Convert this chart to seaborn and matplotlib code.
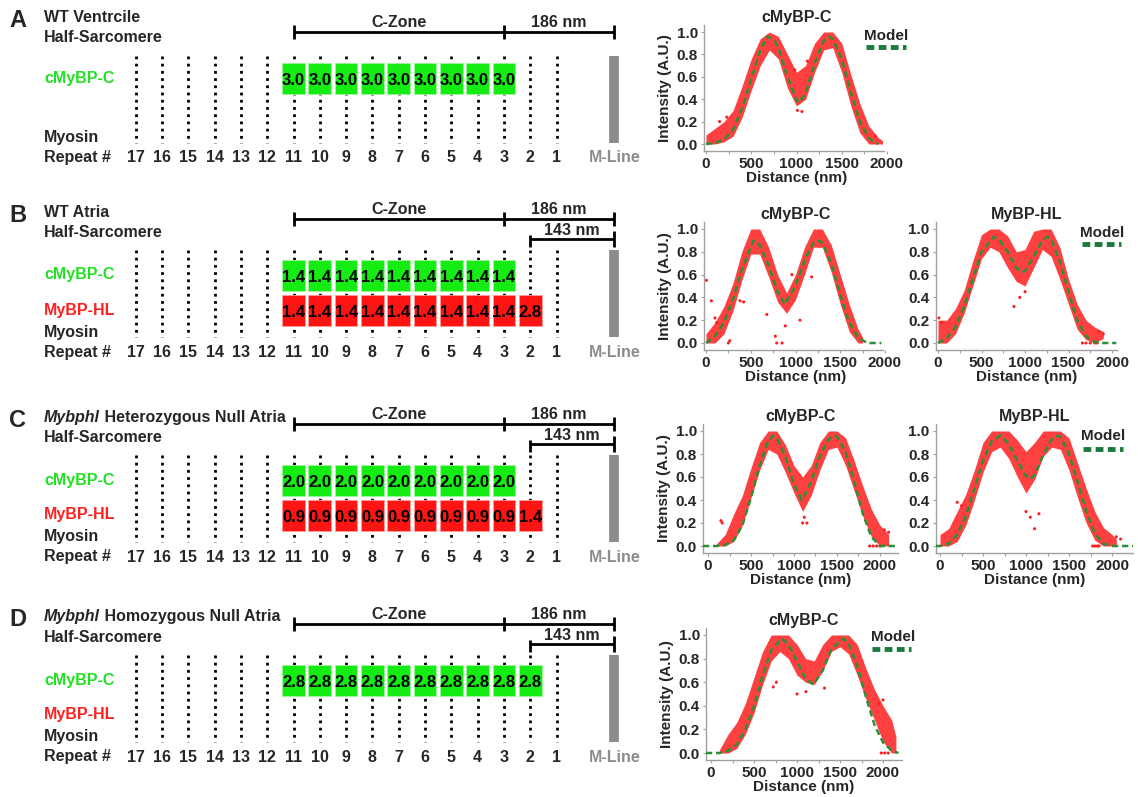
import matplotlib
matplotlib.use("Agg")
import matplotlib.pyplot as plt
from matplotlib.lines import Line2D
import seaborn as sns

sns.set_style("white")
plt.rcParams['font.family'] = ['Liberation Sans', 'DejaVu Sans']
plt.rcParams['font.weight'] = 'bold'
plt.rcParams['axes.labelweight'] = 'bold'
plt.rcParams['axes.titleweight'] = 'bold'

W, H = 1138, 797

# ---------------- schematic data ----------------
repeat_numbers = [17, 16, 15, 14, 13, 12, 11, 10, 9, 8, 7, 6, 5, 4, 3, 2, 1]
czone_repeats = [11, 10, 9, 8, 7, 6, 5, 4, 3]
czone_plus2 = [11, 10, 9, 8, 7, 6, 5, 4, 3, 2]

a_cmybpc = [3.0, 3.0, 3.0, 3.0, 3.0, 3.0, 3.0, 3.0, 3.0]
b_cmybpc = [1.4, 1.4, 1.4, 1.4, 1.4, 1.4, 1.4, 1.4, 1.4]
b_mybphl = [1.4, 1.4, 1.4, 1.4, 1.4, 1.4, 1.4, 1.4, 1.4, 2.8]
c_cmybpc = [2.0, 2.0, 2.0, 2.0, 2.0, 2.0, 2.0, 2.0, 2.0]
c_mybphl = [0.9, 0.9, 0.9, 0.9, 0.9, 0.9, 0.9, 0.9, 0.9, 1.4]
d_cmybpc = [2.8, 2.8, 2.8, 2.8, 2.8, 2.8, 2.8, 2.8, 2.8, 2.8]

# ---------------- intensity profiles ----------------
# A: WT ventricle cMyBP-C
a_env_x = [0, 100, 200, 300, 400, 500, 600, 700, 800, 900, 1000, 1100, 1200, 1300, 1400, 1500, 1600, 1700, 1800, 1900, 1950]
a_env_lo = [0.0, 0.0, 0.02, 0.07, 0.24, 0.48, 0.7, 0.84, 0.76, 0.5, 0.34, 0.4, 0.64, 0.84, 0.86, 0.64, 0.34, 0.1, 0.0, 0.0, 0.0]
a_env_hi = [0.08, 0.14, 0.2, 0.3, 0.52, 0.76, 0.94, 1.0, 0.96, 0.8, 0.64, 0.7, 0.9, 1.0, 1.0, 0.9, 0.62, 0.36, 0.16, 0.06, 0.03]
a_model_x = [0, 100, 200, 300, 400, 500, 600, 680, 750, 800, 900, 1000, 1030, 1100, 1200, 1300, 1360, 1400, 1500, 1600, 1700, 1800, 1900]
a_model_y = [0.0, 0.01, 0.04, 0.13, 0.32, 0.58, 0.84, 0.96, 0.93, 0.86, 0.6, 0.39, 0.37, 0.45, 0.72, 0.92, 0.96, 0.94, 0.76, 0.46, 0.2, 0.05, 0.0]
a_out_x = [150, 230, 1010, 1060, 1870, 980, 1120]
a_out_y = [0.2, 0.24, 0.3, 0.29, 0.07, 0.66, 0.74]

# B: WT atria cMyBP-C
bc_env_x = [0, 100, 200, 300, 400, 500, 600, 700, 800, 900, 1000, 1100, 1200, 1300, 1400, 1500, 1600, 1700, 1750]
bc_env_lo = [0.0, 0.0, 0.08, 0.28, 0.55, 0.78, 0.78, 0.58, 0.36, 0.26, 0.38, 0.6, 0.84, 0.84, 0.62, 0.34, 0.1, 0.0, 0.0]
bc_env_hi = [0.08, 0.18, 0.32, 0.52, 0.8, 1.0, 1.0, 0.84, 0.6, 0.44, 0.6, 0.84, 1.0, 1.0, 0.86, 0.6, 0.34, 0.12, 0.05]
bc_model_x = [0, 100, 200, 300, 400, 530, 600, 700, 800, 880, 1000, 1100, 1200, 1255, 1300, 1400, 1500, 1600, 1700, 1800, 1960]
bc_model_y = [0.0, 0.06, 0.18, 0.38, 0.64, 0.9, 0.86, 0.68, 0.45, 0.34, 0.5, 0.72, 0.88, 0.9, 0.88, 0.7, 0.42, 0.18, 0.05, 0.0, 0.0]
bc_out_x = [5, 60, 120, 100, 250, 265, 420, 380, 680, 775, 790, 850, 886, 1050, 960, 1180]
bc_out_y = [0.55, 0.37, 0.18, 0.22, 0.0, 0.02, 0.36, 0.37, 0.25, 0.06, 0.0, 0.0, 0.15, 0.2, 0.6, 0.58]

# B: WT atria MyBP-HL
bh_env_x = [0, 100, 200, 300, 400, 500, 600, 700, 800, 900, 1000, 1100, 1200, 1300, 1400, 1500, 1600, 1700, 1800, 1900]
bh_env_lo = [0.0, 0.0, 0.08, 0.26, 0.5, 0.74, 0.84, 0.8, 0.66, 0.54, 0.5, 0.66, 0.82, 0.76, 0.56, 0.34, 0.12, 0.03, 0.0, 0.04]
bh_env_hi = [0.2, 0.2, 0.3, 0.46, 0.72, 0.95, 1.0, 1.0, 0.94, 0.8, 0.82, 0.98, 1.0, 1.0, 0.84, 0.56, 0.34, 0.2, 0.14, 0.1]
bh_model_x = [0, 100, 200, 300, 400, 500, 640, 700, 800, 900, 960, 1000, 1100, 1200, 1250, 1300, 1400, 1500, 1600, 1700, 1800, 1860, 2050]
bh_model_y = [0.0, 0.04, 0.14, 0.32, 0.56, 0.8, 0.93, 0.91, 0.8, 0.66, 0.62, 0.63, 0.76, 0.9, 0.93, 0.91, 0.72, 0.45, 0.2, 0.06, 0.01, 0.0, 0.0]
bh_out_x = [10, 40, 873, 940, 1000, 1660, 1700, 1750, 1800, 1830, 1850, 1900]
bh_out_y = [0.22, 0.18, 0.32, 0.4, 0.45, 0.0, 0.0, 0.0, 0.0, 0.0, 0.1, 0.08]

# C: heterozygous null atria cMyBP-C
cc_env_x = [100, 200, 300, 400, 500, 600, 700, 800, 900, 1000, 1100, 1200, 1300, 1400, 1500, 1600, 1700, 1800, 1900, 2000, 2100]
cc_env_lo = [0.0, 0.0, 0.04, 0.18, 0.42, 0.66, 0.84, 0.8, 0.64, 0.46, 0.3, 0.44, 0.66, 0.84, 0.86, 0.7, 0.48, 0.26, 0.08, 0.0, 0.0]
cc_env_hi = [0.02, 0.1, 0.28, 0.44, 0.68, 0.9, 1.0, 1.0, 0.88, 0.7, 0.6, 0.7, 0.9, 1.0, 1.0, 0.94, 0.74, 0.52, 0.32, 0.18, 0.1]
cc_model_x = [-58, 0, 100, 200, 300, 400, 500, 600, 700, 760, 800, 900, 1000, 1090, 1100, 1200, 1300, 1400, 1477, 1500, 1600, 1700, 1800, 1900, 2000, 2100, 2209]
cc_model_y = [0.0, 0.0, 0.0, 0.01, 0.05, 0.18, 0.42, 0.7, 0.91, 0.96, 0.94, 0.78, 0.54, 0.4, 0.41, 0.56, 0.78, 0.93, 0.96, 0.95, 0.82, 0.56, 0.28, 0.08, 0.0, 0.0, 0.0]
cc_out_x = [150, 165, 1150, 1120, 1100, 2100, 2050, 1880, 1920, 1960, 2000]
cc_out_y = [0.22, 0.2, 0.2, 0.25, 0.2, 0.12, 0.14, 0.0, 0.0, 0.0, 0.0]

# C: heterozygous null atria MyBP-HL
ch_env_x = [0, 100, 200, 300, 400, 500, 600, 700, 800, 900, 1000, 1100, 1200, 1300, 1400, 1500, 1600, 1700, 1800, 1900, 2000, 2050]
ch_env_lo = [0.0, 0.0, 0.04, 0.18, 0.4, 0.64, 0.82, 0.86, 0.76, 0.6, 0.46, 0.58, 0.78, 0.86, 0.84, 0.66, 0.42, 0.2, 0.05, 0.0, 0.0, 0.0]
ch_env_hi = [0.1, 0.15, 0.3, 0.45, 0.66, 0.9, 1.0, 1.0, 1.0, 0.92, 0.82, 0.9, 1.0, 1.0, 1.0, 0.94, 0.72, 0.5, 0.3, 0.16, 0.1, 0.06]
ch_model_x = [-47, 0, 100, 200, 300, 400, 500, 600, 700, 800, 900, 1000, 1050, 1100, 1200, 1300, 1376, 1400, 1500, 1600, 1700, 1800, 1900, 2000, 2244]
ch_model_y = [0.0, 0.0, 0.02, 0.1, 0.26, 0.5, 0.74, 0.91, 0.96, 0.89, 0.74, 0.61, 0.58, 0.62, 0.79, 0.93, 0.96, 0.95, 0.8, 0.56, 0.3, 0.11, 0.02, 0.0, 0.0]
ch_out_x = [1100, 1050, 1000, 1150, 200, 250, 1775, 1800, 1830, 1850, 2050, 2100]
ch_out_y = [0.15, 0.25, 0.3, 0.28, 0.38, 0.35, 0.0, 0.0, 0.0, 0.0, 0.08, 0.06]

# D: homozygous null atria cMyBP-C
dc_env_x = [100, 200, 300, 400, 500, 600, 700, 800, 900, 1000, 1100, 1200, 1300, 1400, 1500, 1600, 1700, 1800, 1900, 2000, 2100, 2150]
dc_env_lo = [0.0, 0.0, 0.04, 0.16, 0.34, 0.58, 0.78, 0.86, 0.8, 0.66, 0.6, 0.58, 0.7, 0.86, 0.9, 0.84, 0.66, 0.46, 0.28, 0.1, 0.0, 0.0]
dc_env_hi = [0.03, 0.16, 0.26, 0.42, 0.64, 0.86, 1.0, 1.0, 1.0, 0.92, 0.8, 0.78, 0.92, 1.0, 1.0, 1.0, 0.92, 0.72, 0.54, 0.4, 0.28, 0.14]
dc_model_x = [-58, 0, 100, 200, 300, 400, 500, 600, 700, 822, 900, 1000, 1100, 1190, 1300, 1400, 1539, 1600, 1700, 1800, 1900, 2000, 2100, 2180]
dc_model_y = [0.0, 0.0, 0.0, 0.02, 0.07, 0.2, 0.4, 0.65, 0.87, 0.97, 0.92, 0.78, 0.63, 0.58, 0.7, 0.88, 0.97, 0.93, 0.74, 0.48, 0.24, 0.09, 0.02, 0.0]
dc_out_x = [2000, 1950, 1105, 724, 760, 1980, 2020, 2060, 1320, 1000]
dc_out_y = [0.45, 0.42, 0.52, 0.56, 0.6, 0.0, 0.0, 0.0, 0.55, 0.5]

GREEN_BOX = '#14ec14'
GREEN_TXT = '#22e022'
RED_BOX = '#ff1414'
RED_TXT = '#ff2020'
CLOUD = '#ff1e1e'
MODEL = '#2b8f35'
GREY = '#8c8c8c'

fig = plt.figure(figsize=(W / 100, H / 100), dpi=100)

# ---------------- schematic ----------------
def px2rep(px):
    # horizontal pixel -> repeat coordinate (repeat 11 at 293.5 px, 26.3 px per repeat)
    return 11 - (px - 293.5) / 26.3

m_line = -1.2
ax_s = fig.add_axes([0, 0, 660 / W, 1])
ax_s.set_xlim(px2rep(0), px2rep(660))
ax_s.set_ylim(H, 0)
ax_s.axis('off')

lab_x = px2rep(44)
FS = 11.5


def title_line(y, parts):
    prev = None
    for txt, style in parts:
        if prev is None:
            prev = ax_s.text(lab_x, y, txt, style=style, ha='left', va='center', fontsize=FS)
        else:
            prev = ax_s.annotate(txt, xy=(1, 0), xycoords=prev, ha='left', va='bottom',
                                 style=style, fontsize=FS)


def boxes(reps, vals, yc, color):
    ax_s.bar(reps, height=31, bottom=yc - 15.5, width=0.86, color=color,
             edgecolor='#9cf59c' if color == GREEN_BOX else '#ff9a9a', linewidth=0.6, zorder=3)
    for r, v in zip(reps, vals):
        ax_s.text(r, yc + 1, f'{v:.1f}', ha='center', va='center_baseline', fontsize=12,
                  color='black', zorder=4)


def schematic(p):
    ax_s.text(px2rep(9), p['title_y'] + 3, p['letter'], ha='left', va='center', fontsize=17)
    title_line(p['title_y'], p['title'])
    title_line(p['title_y'] + 20, [('Half-Sarcomere', 'normal')])
    # myosin repeats
    ax_s.vlines(repeat_numbers, p['dots'][0], p['dots'][1], colors='black',
                linestyles=(0, (1, 1.6)), linewidth=2, zorder=1)
    ax_s.vlines(m_line, p['dots'][0], p['dots'][1], colors=GREY, linewidth=7)
    # C-zone / 186 nm bracket
    y = p['bracket']
    ax_s.hlines(y, 11, m_line, colors='black', linewidth=2)
    ax_s.vlines([11, 3, m_line], y - 7, y + 7, colors='black', linewidth=2)
    ax_s.text(7, y - 5, 'C-Zone', ha='center', va='baseline', fontsize=FS)
    ax_s.text((3 + m_line) / 2, y - 5, '186 nm', ha='center', va='baseline', fontsize=FS)
    if p['bracket2'] is not None:
        y2 = p['bracket2']
        ax_s.hlines(y2, 2, m_line, colors='black', linewidth=2)
        ax_s.vlines(2, y2 - 4, y2 + 8, colors='black', linewidth=2)
        ax_s.vlines(m_line, y2 - 8, y2 + 8, colors='black', linewidth=2)
        ax_s.text((2 + m_line) / 2, y2 - 4, '143 nm', ha='center', va='baseline', fontsize=FS)
    # row labels
    ax_s.text(lab_x, p['cmy'], 'cMyBP-C', color=GREEN_TXT, ha='left', va='center', fontsize=FS)
    if p['hl'] is not None:
        ax_s.text(lab_x, p['hl'], 'MyBP-HL', color=RED_TXT, ha='left', va='center', fontsize=FS)
    ax_s.text(lab_x, p['myosin'], 'Myosin', ha='left', va='center', fontsize=FS)
    ax_s.text(lab_x, p['repeat'], 'Repeat #', ha='left', va='center', fontsize=FS)
    for r in repeat_numbers:
        ax_s.text(r, p['repeat'], str(r), ha='center', va='center', fontsize=FS)
    ax_s.text(m_line, p['repeat'], 'M-Line', color=GREY, ha='center', va='center', fontsize=FS)
    # boxes
    boxes(p['c_reps'], p['c_vals'], p['cmy'], GREEN_BOX)
    if p['h_vals'] is not None:
        boxes(p['h_reps'], p['h_vals'], p['hl'], RED_BOX)


def atria_rows(t):
    # row layout shared by the three atria panels, relative to the title row
    return dict(title_y=t, bracket=t + 7, bracket2=t + 27, cmy=t + 63, hl=t + 98,
                myosin=t + 120, repeat=t + 140, dots=(t + 38, t + 125))


panels = [
    dict(letter='A', title=[('WT Ventrcile', 'normal')], title_y=17, bracket=32, bracket2=None,
         cmy=78, hl=None, myosin=137, repeat=157, dots=(56, 143),
         c_reps=czone_repeats, c_vals=a_cmybpc, h_reps=None, h_vals=None),
    dict(letter='B', title=[('WT Atria', 'normal')], **atria_rows(212),
         c_reps=czone_repeats, c_vals=b_cmybpc, h_reps=czone_plus2, h_vals=b_mybphl),
    dict(letter='C', title=[('Mybphl', 'italic'), (' Heterozygous Null Atria', 'normal')], **atria_rows(417),
         c_reps=czone_repeats, c_vals=c_cmybpc, h_reps=czone_plus2, h_vals=c_mybphl),
    dict(letter='D', title=[('Mybphl', 'italic'), (' Homozygous Null Atria', 'normal')], **atria_rows(617),
         c_reps=czone_plus2, c_vals=d_cmybpc, h_reps=None, h_vals=None),
]
for p in panels:
    schematic(p)


# ---------------- intensity profile plots ----------------
def profile(x0, ppn, y1, y0, xl, xend, title, ex, lo, hi, mx, my, ox, oy, ylabel=True):
    xr = max(xend, 2020)
    ppv = y0 - y1
    left, right = x0 + xl * ppn, x0 + xr * ppn
    top, bot = y1 - 0.06 * ppv, y0 + 0.06 * ppv
    ax = fig.add_axes([left / W, 1 - bot / H, (right - left) / W, (bot - top) / H])
    ax.set_xlim(xl, xr)
    ax.set_ylim(-0.06, 1.06)
    ax.fill_between(ex, lo, hi, color=CLOUD, alpha=0.85, linewidth=0, zorder=1)
    sns.scatterplot(x=ox, y=oy, ax=ax, color=CLOUD, s=5, edgecolor='none', zorder=2)
    sns.lineplot(x=mx, y=my, ax=ax, color=MODEL, linewidth=1.8, linestyle=(0, (2.5, 1.5)), zorder=3)
    ax.spines[['top', 'right']].set_visible(False)
    for s in ('left', 'bottom'):
        ax.spines[s].set_color('#a0a0a0')
        ax.spines[s].set_linewidth(1)
    ax.spines['bottom'].set_bounds(xl, xend)
    ax.set_xticks([0, 500, 1000, 1500, 2000])
    ax.set_xticks([250, 750, 1250, 1750], minor=True)
    ax.set_yticks([0.0, 0.2, 0.4, 0.6, 0.8, 1.0])
    ax.set_yticklabels(['0.0', '0.2', '0.4', '0.6', '0.8', '1.0'])
    ax.tick_params(which='both', bottom=True, left=True, direction='out', length=2.5, width=0.8,
                   color='#a0a0a0', labelsize=11, pad=2)
    ax.tick_params(which='minor', left=False)
    ax.set_title(title, fontsize=11.5, pad=1.5)
    ax.set_xlabel('Distance (nm)', fontsize=11, labelpad=0)
    if ylabel:
        ax.set_ylabel('Intensity (A.U.)', fontsize=11, labelpad=3)
    else:
        ax.set_ylabel('')
    return ax


profile(706, 0.0905, 32, 144, -22, 1967, 'cMyBP-C', a_env_x, a_env_lo, a_env_hi,
        a_model_x, a_model_y, a_out_x, a_out_y)
profile(706, 0.0895, 229, 343, -22, 1978, 'cMyBP-C', bc_env_x, bc_env_lo, bc_env_hi,
        bc_model_x, bc_model_y, bc_out_x, bc_out_y)
profile(938, 0.087, 229, 343, -23, 2057, 'MyBP-HL', bh_env_x, bh_env_lo, bh_env_hi,
        bh_model_x, bh_model_y, bh_out_x, bh_out_y, ylabel=False)
profile(708, 0.086, 431, 546, -58, 2209, 'cMyBP-C', cc_env_x, cc_env_lo, cc_env_hi,
        cc_model_x, cc_model_y, cc_out_x, cc_out_y)
profile(940, 0.086, 431, 546, -47, 2244, 'MyBP-HL', ch_env_x, ch_env_lo, ch_env_hi,
        ch_model_x, ch_model_y, ch_out_x, ch_out_y, ylabel=False)
profile(711, 0.086, 635, 753, -58, 2221, 'cMyBP-C', dc_env_x, dc_env_lo, dc_env_hi,
        dc_model_x, dc_model_y, dc_out_x, dc_out_y)


# "Model" keys
def model_key(cx, ty, ly, x1, x2):
    fig.text(cx / W, 1 - ty / H, 'Model', ha='center', va='center', fontsize=11)
    fig.add_artist(Line2D([x1 / W, x2 / W], [1 - ly / H, 1 - ly / H], color='#1a7a3c',
                          linewidth=3.5, linestyle=(0, (1.6, 0.9))))


model_key(886, 36, 47, 866, 906)
model_key(1102, 233, 244, 1082, 1121)
model_key(1103, 436, 449, 1083, 1123)
model_key(893, 637, 649, 872, 911)

fig.savefig('out.png', dpi=100)
